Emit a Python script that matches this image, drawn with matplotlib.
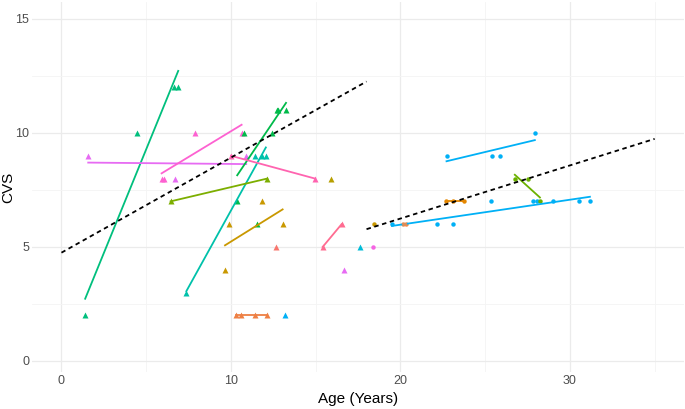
import numpy as np
import matplotlib.pyplot as plt

plt.rcParams['font.family'] = ['Liberation Sans', 'DejaVu Sans']

# each subject: ages (years) and CVS scores
age_s1 = [1.4, 4.47, 6.62, 6.89];  cvs_s1 = [2, 10, 12, 12]
age_s2 = [1.58, 6.7, 10.9];         cvs_s2 = [9, 8, 9]
age_s3 = [5.91, 6.05, 7.88, 10.63]; cvs_s3 = [8, 8, 10, 10]
age_s4 = [10.37, 10.8, 12.4, 12.7, 12.8, 13.25]; cvs_s4 = [7, 10, 10, 11, 11, 11]
age_s5 = [7.37, 11.43, 11.83, 12.06]; cvs_s5 = [3, 9, 9, 9]
age_s6 = [6.44, 12.14];             cvs_s6 = [7, 8]
age_s7 = [9.65, 9.9, 11.85, 13.05]; cvs_s7 = [4, 6, 7, 6]
age_s8 = [10.0, 14.96];             cvs_s8 = [9, 8]
age_s9 = [15.41, 16.53];            cvs_s9 = [5, 6]
age_s10 = [10.29, 10.61, 11.43, 12.1]; cvs_s10 = [2, 2, 2, 2]
age_s11 = [12.65];                  cvs_s11 = [5]
age_s12 = [17.63];                  cvs_s12 = [5]
age_s13 = [16.69];                  cvs_s13 = [4]
age_s14 = [15.9];                   cvs_s14 = [8]
age_s15 = [13.2];                   cvs_s15 = [2]
age_s16 = [11.52];                  cvs_s16 = [6]
# adults
age_a1 = [22.72, 25.4, 25.87, 27.93]; cvs_a1 = [9, 9, 9, 10]
age_a2 = [19.5, 22.17, 23.08, 25.32, 27.83, 28.04, 29.0, 30.55, 31.18]
cvs_a2 = [6, 6, 6, 7, 7, 7, 7, 7, 7]
age_a3 = [26.75, 27.5, 28.23];      cvs_a3 = [8, 8, 7]
age_a4 = [22.68, 23.1, 23.75];      cvs_a4 = [7, 7, 7]
age_a5 = [20.16, 20.3];             cvs_a5 = [6, 6]
age_a6 = [18.4];                    cvs_a6 = [5]
age_a7 = [18.45];                   cvs_a7 = [6]

# population trend lines (intercept, slope, age range)
child_fit = (4.75, 0.417, 0, 18)
adult_fit = (1.586, 0.233, 18, 35)

children = [
  (age_s1, cvs_s1, '#00BF7D'),
  (age_s2, cvs_s2, '#E76BF3'),
  (age_s3, cvs_s3, '#FD61D1'),
  (age_s4, cvs_s4, '#00BA4A'),
  (age_s5, cvs_s5, '#00C1AA'),
  (age_s6, cvs_s6, '#7CAE00'),
  (age_s7, cvs_s7, '#C99800'),
  (age_s8, cvs_s8, '#FF64B0'),
  (age_s9, cvs_s9, '#FF6C91'),
  (age_s10, cvs_s10, '#EE8044'),
  (age_s11, cvs_s11, '#F8766D'),
  (age_s12, cvs_s12, '#00BCD8'),
  (age_s13, cvs_s13, '#E76BF3'),
  (age_s14, cvs_s14, '#B79F00'),
  (age_s15, cvs_s15, '#00B0F6'),
  (age_s16, cvs_s16, '#00BA38')]
adults = [
  (age_a1, cvs_a1, '#00B0F6'),
  (age_a2, cvs_a2, '#00B0F6'),
  (age_a3, cvs_a3, '#6BB100'),
  (age_a4, cvs_a4, '#E58700'),
  (age_a5, cvs_a5, '#F08A4B'),
  (age_a6, cvs_a6, '#F564E3'),
  (age_a7, cvs_a7, '#C99800')]

fig = plt.figure(figsize=(6.85, 4.09), dpi=100)
ax = fig.add_axes([0.0464, 0.0895, 0.9526, 0.906])

def draw(group, marker, ms):
  for x, y, c in group:
    ax.plot(x, y, marker, color=c, ms=ms, mec='none', zorder=3)
    if len(x) > 1:
      k, b = np.polyfit(x, y, 1)
      xx = np.array([min(x), max(x)])
      ax.plot(xx, k*xx + b, '-', color=c, lw=1.3, zorder=4)

draw(children, '^', 4.0)
draw(adults, 'o', 3.2)

for b, k, x0, x1 in [child_fit, adult_fit]:
  xx = np.array([x0, x1])
  ax.plot(xx, b + k*xx, color='black', lw=1.3, ls=(0, (2.5, 2)), zorder=5)

ax.set_xlim(-1.75, 36.75)
ax.set_ylim(-0.5, 15.75)
ax.set_xticks([0, 10, 20, 30])
ax.set_yticks([0, 5, 10, 15])
ax.set_xticks([5, 15, 25, 35], minor=True)
ax.set_yticks([2.5, 7.5, 12.5], minor=True)
ax.grid(True, which='major', color='#EBEBEB', lw=0.9)
ax.grid(True, which='minor', color='#F4F4F4', lw=0.6)
ax.set_axisbelow(True)
for s in ax.spines.values():
  s.set_visible(False)
ax.tick_params(which='both', length=0, labelsize=9, labelcolor='#4D4D4D', pad=2)
ax.set_xlabel('Age (Years)', fontsize=11)
ax.set_ylabel('CVS', fontsize=11)
ax.xaxis.set_label_coords(0.5, -0.052)
ax.yaxis.set_label_coords(-0.026, 0.5)

fig.savefig('out.png', dpi=100)
